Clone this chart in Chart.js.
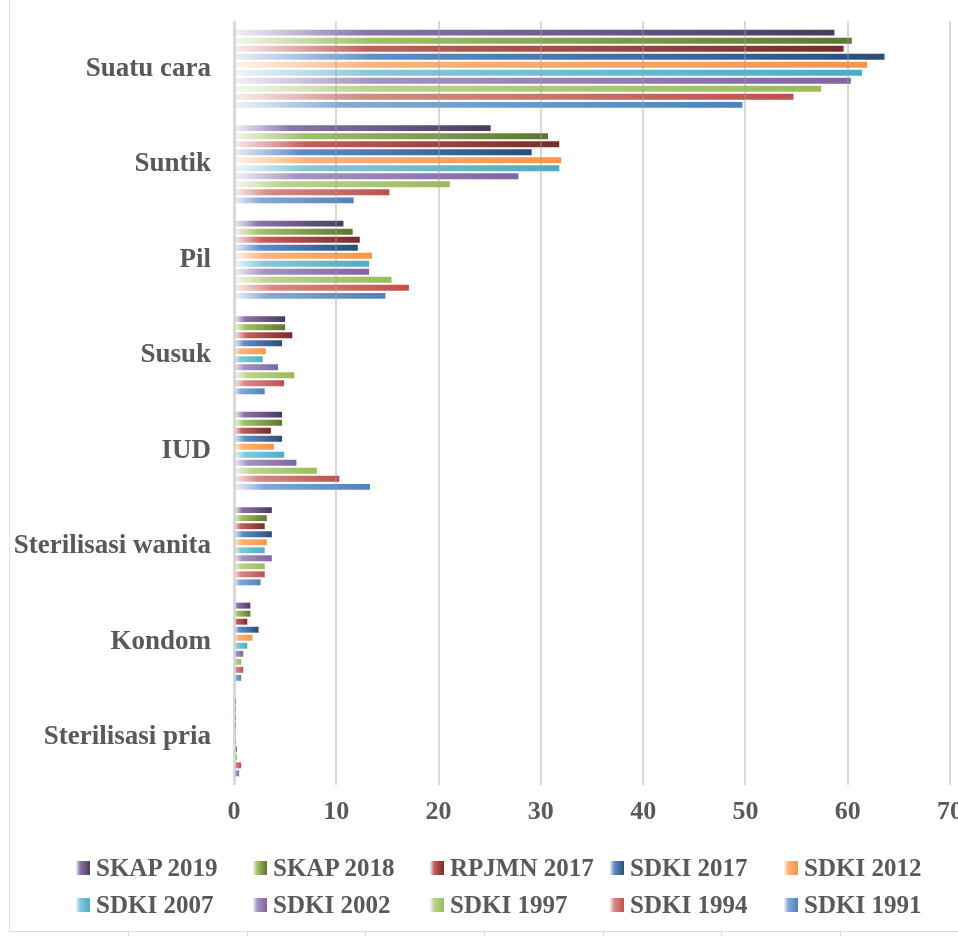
<!DOCTYPE html>
<html>
<head>
<meta charset="utf-8">
<title>Metode kontrasepsi</title>
<script src="https://cdn.jsdelivr.net/npm/chart.js@4.4.1/dist/chart.umd.min.js"></script>
<style>
  html, body { margin: 0; padding: 0; background: #fff; }
  #wrap { position: relative; width: 958px; height: 936px; overflow: hidden; background: #fff; }
  #chart { position: absolute; left: 0; top: 0; }
  .frame-left { position: absolute; left: 9px; top: 0; width: 1px; height: 932px; background: #e4e4e4; }
  .frame-bottom { position: absolute; left: 9px; top: 931px; width: 949px; height: 1px; background: #d9d9d9; }
  .frame-tick { position: absolute; top: 931px; width: 1px; height: 5px; background: #d9d9d9; }
  .lg-item { position: absolute; height: 30px; line-height: 30px; display: flex; align-items: center;
             font: bold 25px "Liberation Serif", "Times New Roman", serif; color: #595959; white-space: nowrap; }
  .lg-box { width: 14px; height: 14px; margin-right: 6px; flex: none; }
</style>
</head>
<body>
<div id="wrap">
  <div class="frame-left"></div>
  <div class="frame-bottom"></div>
  <canvas id="chart" width="958" height="936"></canvas>
  <div id="legend"></div>
</div>
<script>
// categories, top to bottom
const categories = ['Suatu cara', 'Suntik', 'Pil', 'Susuk', 'IUD', 'Sterilisasi wanita', 'Kondom', 'Sterilisasi pria'];

const seriesNames = ['SKAP 2019', 'SKAP 2018', 'RPJMN 2017', 'SDKI 2017', 'SDKI 2012',
                     'SDKI 2007', 'SDKI 2002', 'SDKI 1997', 'SDKI 1994', 'SDKI 1991'];

// percent, one value per category
const skap2019  = [58.7, 25.1, 10.7, 5.0, 4.7, 3.7, 1.6, 0.1];
const skap2018  = [60.4, 30.7, 11.6, 5.0, 4.7, 3.2, 1.6, 0.1];
const rpjmn2017 = [59.6, 31.8, 12.3, 5.7, 3.6, 3.0, 1.3, 0.1];
const sdki2017  = [63.6, 29.1, 12.1, 4.7, 4.7, 3.7, 2.4, 0.2];
const sdki2012  = [61.9, 32.0, 13.5, 3.1, 3.9, 3.2, 1.8, 0.2];
const sdki2007  = [61.4, 31.8, 13.2, 2.8, 4.9, 3.0, 1.3, 0.2];
const sdki2002  = [60.3, 27.8, 13.2, 4.3, 6.1, 3.7, 0.9, 0.3];
const sdki1997  = [57.4, 21.1, 15.4, 5.9, 8.1, 3.0, 0.7, 0.3];
const sdki1994  = [54.7, 15.2, 17.1, 4.9, 10.3, 3.0, 0.9, 0.7];
const sdki1991  = [49.7, 11.7, 14.8, 3.0, 13.3, 2.6, 0.7, 0.5];

const seriesValues = [skap2019, skap2018, rpjmn2017, sdki2017, sdki2012,
                      sdki2007, sdki2002, sdki1997, sdki1994, sdki1991];

const xTicks = [0, 10, 20, 30, 40, 50, 60, 70];

// gradient colours per series: start (left), middle, end (bar tip)
const startColors = ['#f4f2f7', '#f3f7ea', '#f9ecec', '#eaf0f8', '#fef4ec',
                     '#eef7fa', '#f3f0f7', '#f5f8ee', '#f9eceb', '#edf2f9'];
const midColors   = ['#8a73a8', '#a3c065', '#c45f5c', '#5f8dc6', '#fbb27a',
                     '#86c8da', '#a593c2', '#bcd38d', '#d58a88', '#86a8d6'];
const endColors   = ['#4b3b5e', '#5f7530', '#772c2a', '#2c4d75', '#f79646',
                     '#4bacc6', '#8064a2', '#9bbb59', '#c0504d', '#4f81bd'];

const textColor = '#595959';
const fontFamily = "'Liberation Serif', 'Times New Roman', serif";

function barFill(ctx) {
  const i = ctx.datasetIndex;
  const chart = ctx.chart;
  const x = chart.scales && chart.scales.x;
  if (ctx.type !== 'data' || !chart.chartArea || !x) return endColors[i];
  const x0 = x.getPixelForValue(0);
  const x1 = x.getPixelForValue(ctx.raw);
  if (x1 - x0 < 1) return startColors[i];
  const g = chart.ctx.createLinearGradient(x0, 0, x1, 0);
  g.addColorStop(0, startColors[i]);
  g.addColorStop(0.22, midColors[i]);
  g.addColorStop(1, endColors[i]);
  return g;
}

new Chart(document.getElementById('chart'), {
  type: 'bar',
  data: {
    labels: categories,
    datasets: seriesNames.map((name, i) => ({
      label: name,
      data: seriesValues[i],
      backgroundColor: barFill,
      borderWidth: 0,
      categoryPercentage: 0.84,
      barPercentage: 0.74
    }))
  },
  options: {
    indexAxis: 'y',
    responsive: false,
    animation: false,
    layout: { padding: { top: 21, right: 8, bottom: 106, left: 0 } },
    plugins: {
      legend: { display: false },
      tooltip: { enabled: false }
    },
    scales: {
      x: {
        min: 0,
        max: 70,
        afterBuildTicks: scale => { scale.ticks = xTicks.map(v => ({ value: v })); },
        afterFit: scale => { scale.paddingLeft = 0; scale.paddingRight = 0; scale.height = 45; },
        ticks: {
          color: textColor,
          padding: 12,
          maxRotation: 0,
          font: { family: fontFamily, size: 26, weight: 'bold' }
        },
        grid: {
          z: 1,
          color: 'rgba(160,160,160,0.4)',
          lineWidth: c => (c.tick && c.tick.value === 0 ? 3 : 2),
          drawTicks: false
        },
        border: { display: false }
      },
      y: {
        afterFit: scale => { scale.width = 234; scale.paddingTop = 0; scale.paddingBottom = 0; },
        grid: { display: false, drawTicks: false },
        border: { display: false },
        ticks: {
          color: textColor,
          padding: 23,
          font: { family: fontFamily, size: 27, weight: 'bold' }
        }
      }
    }
  }
});

// legend below the plot, two rows of five
const legendCols = [76, 253, 430, 610, 784];
const legendRows = [868, 905];
const legendEl = document.getElementById('legend');
seriesNames.forEach((name, i) => {
  const item = document.createElement('div');
  item.className = 'lg-item';
  item.style.left = legendCols[i % 5] + 'px';
  item.style.top = (legendRows[Math.floor(i / 5)] - 15) + 'px';
  const box = document.createElement('span');
  box.className = 'lg-box';
  box.style.background = 'linear-gradient(to right, ' + startColors[i] + ', ' + midColors[i] + ' 30%, ' + endColors[i] + ')';
  const label = document.createElement('span');
  label.textContent = name;
  item.appendChild(box);
  item.appendChild(label);
  legendEl.appendChild(item);
});

// faint frame ticks along the bottom edge
[128, 247, 365, 484, 603, 721, 840].forEach(x => {
  const t = document.createElement('div');
  t.className = 'frame-tick';
  t.style.left = x + 'px';
  document.getElementById('wrap').appendChild(t);
});
</script>
</body>
</html>
